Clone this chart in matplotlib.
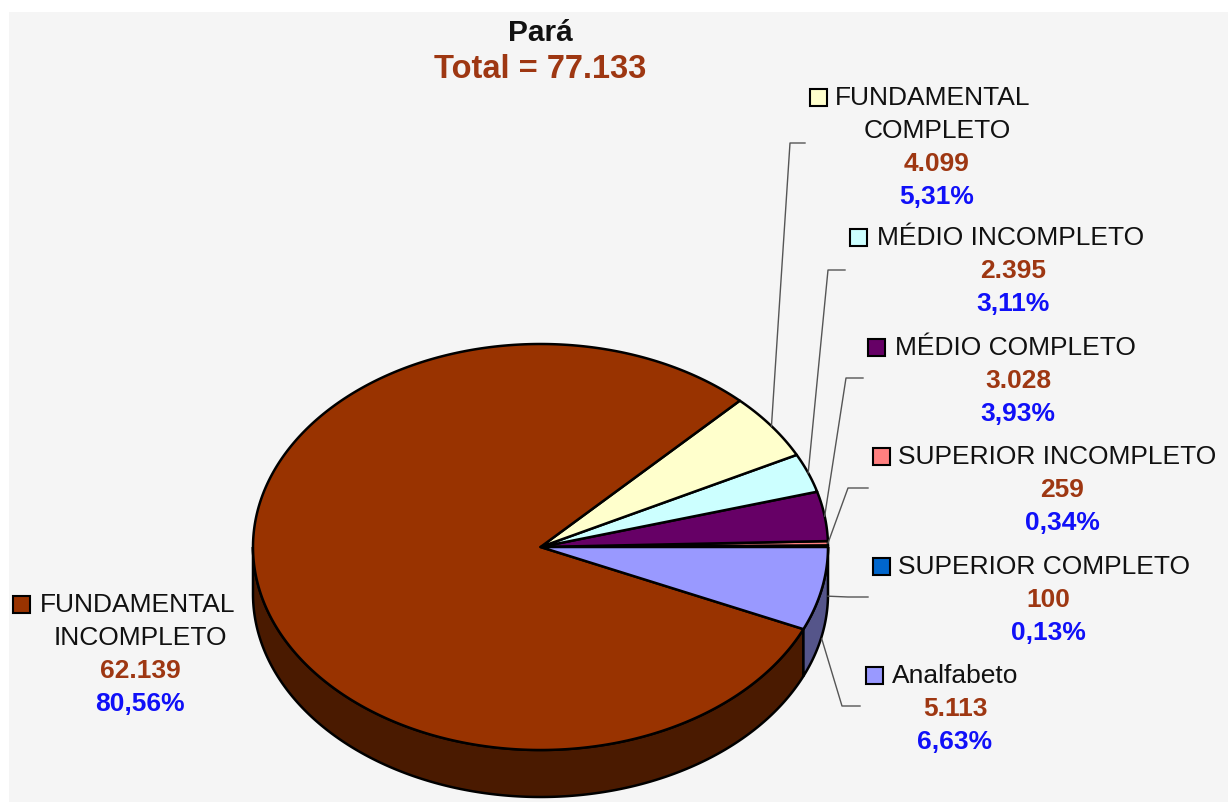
import numpy as np
import matplotlib.pyplot as plt
from matplotlib.patches import Polygon, Rectangle

plt.rcParams['font.family'] = ['Liberation Sans', 'DejaVu Sans']

# Data (counter-clockwise from the 3 o'clock position)
categories = ["SUPERIOR COMPLETO", "SUPERIOR INCOMPLETO", "MÉDIO COMPLETO",
              "MÉDIO INCOMPLETO", "FUNDAMENTAL COMPLETO",
              "FUNDAMENTAL INCOMPLETO", "Analfabeto"]
name_lines = [["SUPERIOR COMPLETO"], ["SUPERIOR INCOMPLETO"], ["MÉDIO COMPLETO"],
              ["MÉDIO INCOMPLETO"], ["FUNDAMENTAL", "COMPLETO"],
              ["FUNDAMENTAL", "INCOMPLETO"], ["Analfabeto"]]
values = [100, 259, 3028, 2395, 4099, 62139, 5113]
colors = ["#0066CC", "#FF8080", "#660066", "#CCFFFF", "#FFFFCC", "#993300", "#9999FF"]
side_colors = ["#003366", "#804040", "#330033", "#668080", "#808066", "#4A1A00", "#55558A"]
title = "Pará"

total = sum(values)
value_labels = [f"{v:,}".replace(",", ".") for v in values]
pct_labels = [f"{100 * v / total:.2f}%".replace(".", ",") for v in values]

# label layout: key square x, first line y, text x, centre x of other lines,
# leader elbow / end points (None = no leader), anchor drop onto side face
layout = [
    dict(kx=873, y=567, tx=898, cx=1048, elbow=(848, 597), end=(868, 597), drop=50),
    dict(kx=873, y=457, tx=898, cx=1062, elbow=(848, 488), end=(868, 488), drop=0),
    dict(kx=868, y=348, tx=895, cx=1018, elbow=(846, 378), end=(863, 378), drop=0),
    dict(kx=850, y=238, tx=877, cx=1013, elbow=(828, 270), end=(845, 270), drop=0),
    dict(kx=810, y=98, tx=835, cx=937, elbow=(790, 143), end=(805, 143), drop=0),
    dict(kx=13, y=605, tx=40, cx=140, elbow=None, end=None, drop=0),
    dict(kx=866, y=676, tx=892, cx=955, elbow=(842, 706), end=(860, 706), drop=50),
]

# pie geometry (pixels)
cx, cy, rx, ry, depth = 540.5, 547, 287.5, 203, 47

W, H = 1228, 802
fig = plt.figure(figsize=(W / 100, H / 100), dpi=100, facecolor="white")
ax = fig.add_axes([0, 0, 1, 1])
ax.set_xlim(0, W)
ax.set_ylim(H, 0)
ax.axis("off")
ax.add_patch(Rectangle((9, 12), W - 9, H - 12, facecolor="#F5F5F5", edgecolor="none", zorder=0))


def arc(a0, a1, dy=0.0, n=None):
    n = n or max(int(abs(a1 - a0) * 2), 3)
    t = np.radians(np.linspace(a0, a1, n))
    return np.column_stack([cx + rx * np.cos(t), cy - ry * np.sin(t) + dy])


fracs = np.array(values) / total
ends = np.cumsum(fracs) * 360
starts = ends - fracs * 360

# side faces (only the front half, 180..360 degrees)
for a0, a1, sc in zip(starts, ends, side_colors):
    s0, s1 = max(a0, 180), min(a1, 360)
    if s1 <= s0:
        continue
    top = arc(s0, s1)
    bot = arc(s1, s0, dy=depth)
    ax.add_patch(Polygon(np.vstack([top, bot]), closed=True, facecolor=sc,
                         edgecolor="black", lw=1.8, zorder=2))

# top faces
for a0, a1, c in zip(starts, ends, colors):
    pts = np.vstack([[cx, cy], arc(a0, a1)])
    ax.add_patch(Polygon(pts, closed=True, facecolor=c, edgecolor="black",
                         lw=1.8, joinstyle="round", zorder=3))

# labels
fs = 19
for i, lay in enumerate(layout):
    y = lay["y"]
    ax.add_patch(Rectangle((lay["kx"], y - 9), 17, 17, facecolor=colors[i],
                           edgecolor="black", lw=1.5, zorder=4))
    ax.text(lay["tx"], y, name_lines[i][0], fontsize=fs, ha="left", va="center",
            color="#111111", zorder=5)
    rows = name_lines[i][1:] + [value_labels[i], pct_labels[i]]
    row_colors = ["#111111"] * (len(name_lines[i]) - 1) + ["#9E3712", "#1010F8"]
    row_weights = ["normal"] * (len(name_lines[i]) - 1) + ["bold", "bold"]
    for k, (txt, col, wt) in enumerate(zip(rows, row_colors, row_weights)):
        ax.text(lay["cx"], y + 33 * (k + 1), txt, fontsize=fs, ha="center",
                va="center", color=col, fontweight=wt, zorder=5)
    if lay["elbow"] is not None:
        mid = np.radians((starts[i] + ends[i]) / 2)
        axp = cx + rx * np.cos(mid)
        ayp = cy - ry * np.sin(mid) + lay["drop"]
        ex, ey = lay["elbow"]
        fx, fy = lay["end"]
        ax.plot([axp, ex, fx], [ayp, ey, fy], color="#555555", lw=1.0, zorder=4)

# title
ax.text(cx, 33, title, fontsize=21.5, fontweight="bold", ha="center", va="center", color="#111111")
ax.text(cx, 69, f"Total = {total:,}".replace(",", "."), fontsize=23.5,
        fontweight="bold", ha="center", va="center", color="#9E3712")

fig.savefig("out.png", dpi=100, facecolor="white")
